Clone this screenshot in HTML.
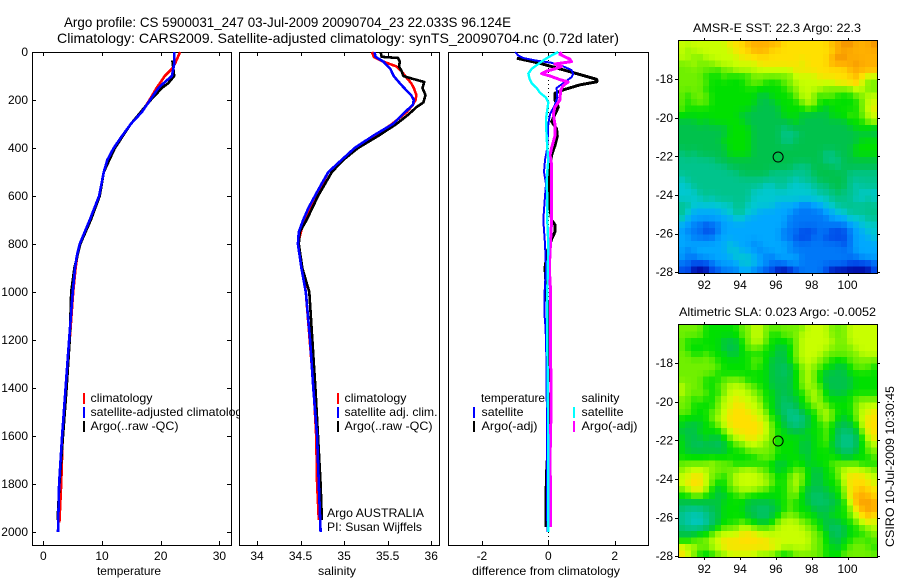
<!DOCTYPE html>
<html>
<head>
<meta charset="utf-8">
<title>Argo profile</title>
<style>
html,body{margin:0;padding:0;background:#fff;}
svg{display:block;}
text{font-family:"Liberation Sans",sans-serif;font-size:12px;fill:#000;}
.title{font-size:14px;}
.map-title{font-size:12px;}
</style>
</head>
<body>
<svg id="chart" xmlns="http://www.w3.org/2000/svg" width="900" height="580" viewBox="0 0 900 580">
  <text class="title" x="64" y="27" textLength="447" lengthAdjust="spacingAndGlyphs">Argo profile: CS 5900031_247 03-Jul-2009 20090704_23 22.033S 96.124E</text>
  <text class="title" x="57" y="43" textLength="562" lengthAdjust="spacingAndGlyphs">Climatology: CARS2009. Satellite-adjusted climatology: synTS_20090704.nc (0.72d later)</text>
  <text class="map-title" x="693" y="32" textLength="168" lengthAdjust="spacingAndGlyphs">AMSR-E SST: 22.3 Argo: 22.3</text>
  <text class="map-title" x="679" y="316" textLength="197" lengthAdjust="spacingAndGlyphs">Altimetric SLA: 0.023 Argo: -0.0052</text>
  <text x="0" y="0" transform="translate(894,547) rotate(-90)" textLength="161" lengthAdjust="spacingAndGlyphs">CSIRO 10-Jul-2009 10:30:45</text>
</svg>
<script>
// ---------- profile data ----------
const depthTicks = [0,200,400,600,800,1000,1200,1400,1600,1800,2000];
const tempTicks = [0,10,20,30];
const salTicks = [34,34.5,35,35.5,36];
const salTickLabels = ['34','34.5','35','35.5','36'];
const diffTicks = [-2,0,2];
const lonTicks = [92,94,96,98,100];
const latTicks = [-18,-20,-22,-24,-26,-28];

const tempClimDepth = [0,50,70,100,150,200,250,300,350,400,450,500,600,700,800,850,900,1000,1200,1400,1600,1800,1960];
const tempClim = [23.3,22.4,21.9,20.7,19.3,18.1,16.8,14.9,13.4,12,10.9,10.3,9.5,7.9,6.2,5.8,5.5,5.1,4.5,3.9,3.3,3.05,2.75];
const tempArgoDepth = [35,100,130,150,200,300,400,500,600,700,800,900,1000,1200,1400,1600,1800,1950];
const tempArgo = [22,22.3,21.3,20.2,18.3,14.9,12.2,10.3,9.6,8.1,6.3,5.3,4.76,4.5,3.97,3.35,2.75,2.44];
const tempSatDepth = [0,50,100,130,150,200,250,300,350,400,450,500,600,700,800,850,900,1000,1200,1400,1600,1800,2000];
const tempSat = [22.3,22.3,21.9,20.5,19.6,18.2,16.8,14.9,13.4,12,10.9,10.3,9.5,7.9,6.2,5.7,5.4,5,4.4,3.8,3.2,2.7,2.5];

const salClimDepth = [0,20,40,60,80,100,130,150,180,200,220,250,300,350,400,450,500,600,700,800,900,1000,1400,1600,1800,1950];
const salClim = [35.32,35.34,35.45,35.6,35.66,35.7,35.77,35.8,35.83,35.82,35.79,35.72,35.55,35.35,35.14,34.99,34.82,34.68,34.54,34.47,34.52,34.56,34.65,34.68,34.69,34.71];
const salArgoDepth = [0,20,25,40,60,80,100,110,125,150,180,210,230,260,300,350,400,450,500,600,700,750,800,900,1000,1400,1600,1800,1950];
const salArgo = [35.42,35.43,35.62,35.64,35.63,35.66,35.68,35.77,35.92,35.9,35.935,35.91,35.83,35.74,35.6,35.39,35.16,34.99,34.86,34.7,34.57,34.49,34.48,34.52,34.6,34.67,34.7,34.73,34.745];
const salSatDepth = [0,20,40,70,100,130,150,180,200,220,250,300,350,400,450,500,550,600,650,700,750,800,850,900,1000,1200,1400,1600,1800,2000];
const salSat = [35.35,35.36,35.45,35.53,35.57,35.64,35.69,35.77,35.8,35.79,35.7,35.56,35.33,35.12,34.97,34.82,34.74,34.665,34.59,34.53,34.48,34.47,34.49,34.51,34.56,34.61,34.646,34.69,34.71,34.73];

const diffTempSatDepth = [0,15,25,35,45,60,75,90,105,125,150,190,220,260,300,400,450,500,550,600,700,800,900,1000,1100,1150,1300,2000];
const diffTempSat = [-1,-0.9,-0.75,-0.4,0.1,0.45,0.7,0.75,0.7,0.5,0.25,0.27,0.2,0.05,0,-0.03,-0.1,-0.13,-0.07,-0.1,-0.15,-0.1,-0.07,-0.11,-0.11,-0.08,-0.05,-0.03];
const diffTempArgoDepth = [26,47,82,114,124,137,158,172,200,230,260,290,320,350,390,430,500,600,700,720,750,780,830,900,1000,1100,1200,1300,1400,1700,1750,1850,1980];
const diffTempArgo = [-0.95,-0.25,0.65,1.46,1.46,0.95,0.45,0.2,0.2,0.3,0.2,0.1,0.25,0.27,0.2,0.1,0.02,0,0.1,0.2,0.2,0.1,-0.03,-0.1,-0.05,0,0.03,0.05,0.08,-0.03,-0.05,-0.07,-0.07];
const diffSalSatDepth = [0,10,30,50,70,90,110,130,150,170,190,210,240,280,350,400,450,500,550,600,700,800,1000,1200,1500,2000];
const diffSalSat = [0.3,0.15,-0.1,-0.3,-0.5,-0.6,-0.57,-0.5,-0.35,-0.25,-0.07,0,-0.03,-0.07,-0.05,-0.03,0,-0.03,-0.05,-0.03,-0.03,0,-0.03,-0.03,-0.01,0];
const diffSalArgoDepth = [0,10,20,30,40,50,60,70,80,90,100,115,125,140,160,200,230,260,300,350,400,430,470,550,600,700,900,1000,1200,1500,1700,1850,1980];
const diffSalArgo = [0.4,0.35,0.5,0.65,0.7,0.2,0.4,0.2,-0.05,-0.2,0.05,0.35,0.6,0.45,0.37,0.35,0.2,0.15,0.2,0.2,0.1,0.05,0.1,0.1,0.1,0.1,0.03,0.07,0.07,0.08,0.05,0.07,0.07];

// ---------- map data (gridded levels, north to south) ----------
const argoLon = 96.124;
const argoLat = -22.033;
const sstGrid = [
[9,9,9,9,9,9,9,9,10,10,10,11,11,11,11,11,11,10,10,10,10,10,10,10,10,11,11,12,12,11,11,11,12],
[9,8,9,9,9,9,9,9,9,10,10,10,11,11,11,10,10,10,10,10,10,10,10,10,10,10,11,11,11,11,11,11,11],
[9,9,8,8,9,9,9,9,9,9,10,10,10,10,10,10,10,10,10,10,10,10,10,10,10,11,12,12,11,11,11,11,11],
[8,8,9,8,8,8,9,9,9,9,9,9,9,10,10,10,10,10,10,10,9,10,10,10,10,11,11,11,11,12,11,11,11],
[8,8,8,8,8,8,7,8,8,9,9,9,9,9,9,9,9,9,9,10,10,10,10,10,10,10,10,10,11,11,11,11,11],
[8,8,8,8,7,7,7,8,7,7,7,7,8,8,8,8,8,8,8,9,9,9,9,10,10,10,10,10,10,11,10,9,9],
[8,8,8,8,8,7,7,7,7,7,7,8,8,8,7,7,7,8,8,9,9,9,9,9,9,9,10,10,10,11,9,8,8],
[8,8,8,8,7,7,7,7,7,7,7,7,7,7,7,7,7,7,8,8,9,9,9,9,8,8,8,8,8,9,9,8,8],
[8,7,8,8,8,7,7,7,7,7,7,7,7,6,6,7,7,7,7,8,9,9,8,7,8,8,7,7,7,8,8,9,9],
[8,7,8,8,8,7,7,7,7,7,7,7,7,6,6,6,7,7,7,7,8,9,9,7,7,7,7,7,7,7,8,9,9],
[8,7,7,7,7,7,7,7,7,7,7,7,6,6,6,6,6,7,7,7,7,8,7,7,6,7,7,7,7,7,8,9,10],
[7,7,7,7,7,7,7,7,7,7,6,6,6,6,6,6,6,7,7,7,6,6,6,6,6,7,7,7,8,7,8,9,9],
[6,6,6,7,6,7,7,7,7,7,7,6,6,6,6,6,6,6,6,7,6,6,6,6,6,6,6,6,7,7,7,8,9],
[6,6,6,6,6,6,6,6,7,7,7,7,6,6,6,6,6,5,6,6,6,6,6,6,6,6,6,6,6,7,7,7,6],
[6,6,6,6,6,6,6,6,7,7,7,7,6,6,6,6,6,5,5,5,6,6,6,6,6,6,6,6,6,6,6,6,6],
[6,6,6,6,6,6,6,7,7,7,7,7,6,6,6,6,6,5,5,6,6,6,6,6,6,6,6,6,6,6,7,7,7],
[6,6,6,6,6,6,6,6,7,7,7,7,6,6,6,6,6,6,6,6,6,6,6,6,6,6,6,6,6,7,7,7,7],
[5,6,5,6,6,6,6,6,7,7,7,7,6,6,6,6,6,6,6,6,6,6,6,6,5,5,6,6,6,7,7,7,7],
[5,5,5,5,5,5,6,6,6,6,6,6,6,6,6,6,6,6,6,6,6,6,6,6,5,5,5,6,6,6,6,6,6],
[5,5,5,5,5,5,5,5,6,6,6,6,6,6,6,6,6,6,6,5,5,5,6,6,6,6,5,6,6,6,6,6,6],
[5,5,5,5,5,5,5,5,5,5,6,6,6,6,6,5,5,5,5,5,5,5,6,6,6,6,6,6,5,5,5,5,5],
[4,5,5,5,5,5,5,5,5,5,5,5,5,5,5,5,5,5,5,4,5,5,5,6,6,6,6,6,5,5,5,5,5],
[4,4,5,5,5,5,5,5,5,5,5,5,5,5,4,4,5,5,4,4,4,4,5,5,5,6,6,6,5,4,5,5,5],
[4,4,4,5,5,5,5,5,5,5,5,5,4,4,4,4,4,4,4,4,4,4,4,5,5,5,6,5,5,5,4,4,4],
[4,4,4,4,5,4,5,5,5,5,5,5,4,4,4,4,4,4,4,4,4,4,4,4,4,5,5,5,5,4,4,5,4],
[5,5,4,4,4,4,4,4,4,5,5,4,4,4,4,4,3,3,3,3,2,2,3,3,4,4,5,5,5,5,5,5,5],
[5,4,3,3,3,3,3,4,4,5,5,4,4,3,3,3,3,3,3,2,2,2,2,2,3,3,4,4,5,5,5,5,5],
[5,3,3,3,3,3,3,3,3,4,4,3,3,3,3,3,3,3,2,2,2,2,2,2,2,3,3,3,4,4,4,5,5],
[3,3,2,2,1,2,2,3,3,3,3,3,3,3,3,3,3,3,2,2,2,2,2,2,2,2,2,2,3,3,4,4,4],
[3,2,2,2,1,1,2,3,3,3,3,3,3,3,3,3,3,2,2,2,1,1,1,2,2,1,1,1,2,3,3,4,4],
[3,3,2,2,2,2,3,3,3,3,3,3,3,3,3,3,3,2,2,1,1,1,2,2,1,1,1,1,2,3,3,3,4],
[3,3,3,3,3,3,3,3,4,3,3,3,2,3,3,3,3,3,3,2,2,2,2,2,2,2,2,1,2,3,3,3,3],
[3,2,3,3,3,3,3,3,4,4,3,3,3,2,3,3,3,3,2,2,2,2,2,2,2,2,2,2,2,3,3,3,3],
[3,2,2,3,3,3,3,3,3,4,4,4,3,3,2,2,3,3,3,3,2,2,2,2,2,2,2,2,2,2,3,3,3],
[2,2,1,1,1,2,3,3,3,3,4,4,4,3,3,2,2,2,3,3,2,2,2,2,2,2,2,2,1,1,1,1,2],
[1,1,0,0,0,1,1,2,2,2,3,3,2,2,1,1,0,0,0,1,2,2,2,2,1,0,0,0,0,0,0,0,1]
];
const slaGrid = [
[8,8,8,8,7,7,7,7,7,7,8,8,9,9,8,8,8,8,8,8,8,9,9,9,9,8,8,8,9,9,9,9,9],
[8,8,8,8,7,7,7,7,7,7,8,8,9,9,8,7,7,8,8,8,9,9,9,9,9,8,8,8,9,9,9,9,9],
[8,7,7,7,7,7,7,6,6,6,7,8,9,9,8,7,7,7,7,8,9,9,9,9,9,9,8,8,9,9,9,9,9],
[8,7,7,7,7,7,7,6,6,6,7,8,8,8,7,7,6,6,7,8,9,9,9,9,9,8,8,8,8,9,9,9,9],
[8,8,7,7,8,7,7,7,6,6,7,7,7,7,7,7,6,6,7,8,9,9,9,9,8,8,8,8,8,8,9,9,9],
[8,8,8,8,8,8,7,7,7,7,7,7,8,8,7,6,6,6,7,8,9,9,9,8,8,7,7,7,8,8,8,8,8],
[8,8,8,8,8,8,8,7,7,7,7,7,8,7,7,6,6,5.5,6,7,8,9,8,8,7,7,6,6,7,8,8,8,7],
[8,8,8,8,8,8,7,7,7,7,7,7,7,7,7,6,6,5.5,6,7,8,9,8,7,6,6,6,6,7,7,7,7,7],
[8,8,8,8,7,7,7,8,8,8,8,7,7,7,7,6,6,6,6,7,8,9,8,7,6,6,6,6,6,7,7,7,7],
[9,8,8,8,7,7,8,8,9,9,9,8,8,7,7,6,6,6,6,7,8,9,8,8,6,6,6,6,6,7,7,7,7],
[9,8,8,8,8,7,7,8,9,9,9,9,8,8,7,7,6,6,6,7,7,8,9,8,7,6,6,6,7,7,7,7,7],
[8,8,7,8,7,7,8,9,9,10,9,9,9,8,7,7,6,5.5,6,6,7,8,9,8,7,7,7,7,7,8,8,8,8],
[8,8,7,7,7,7,8,9,9,10,10,9,9,9,7,7,6,5.5,5.5,6,7,7,8,9,8,7,7,7,7,8,9,9,9],
[8,8,7,7,7,8,8,9,10,10,10,10,9,9,8,7,6,5.5,5,5,6,7,7,8,9,8,7,7,7,8,9,9,10],
[7,7,7,7,7,8,9,9,10,10,10,10,10,9,9,7,7,6,5,5,5,6,7,8,9,8,7,6,7,8,9,10,10],
[7,6,6,6,7,7,8,9,10,10,10,10,10,10,9,8,7,6,5.5,5,5.5,6,7,7,8,7,6,6,6,7,9,10,10],
[6,6,6,7,7,7,7,8,9,10,10,10,10,10,9,8,7,7,6,6,6,7,7,7,8,7,5.5,5.5,5.5,6,8,10,10],
[7,6,6,6,7,6,6,7,8,9,9,10,10,9,9,8,7,7,7,7,7,6,7,7,8,7,5.5,5,5,5.5,7,9,10],
[7,6,6,5.5,6,6,5.5,6,7,8,8,9,9,9,8,8,7,7,7,7,6,6,7,7,8,6,5.5,5,5,5.5,7,8,9],
[7,6,6,6,6,6,6,6,7,7,7,8,8,8,8,8,7,7,7,7,6,6,7,7,7,7,6,5.5,5.5,6,7,8,8],
[7,7,7,7,7,7,7,7,7,7,7,7,7,8,8,8,7,7,7,7,7,6,7,7,7,7,7,6,6,7,7,7,8],
[8,8,8,8,8,9,8,8,8,7,7,7,7,7,7,7,6,6,7,7,7,6,7,7,7,8,8,8,8,8,7,7,7],
[8,9,9,9,9,8,8,8,8,8,9,9,9,8,8,7,6,7,7,8,8,7,6,6,7,7,8,9,9,9,9,9,8],
[9,9,10,10,9,8,8,7,8,9,9,9,9,9,8,8,7,7,8,9,8,7,6,6,7,7,8,9,10,10,10,9,9],
[9,10,10,10,9,8,7,7,8,9,9,9,9,9,9,8,7,7,8,9,8,7,6,6,7,7,7,9,10,10,10,10,9],
[8,9,10,10,9,7,6,7,8,8,9,9,9,8,8,7,7,7,8,9,7,6,6,6,6,7,7,8,10,10,11,10,10],
[7,7,8,8,7,7,6,6,7,7,8,7,7,7,7,7,7,7,8,8,7,6,5.5,5.5,6,6,7,8,10,11,11,11,10],
[6,6,6,6,6,6,6,7,7,7,7,6,6,6,6,6,7,7,8,7,7,6,5.5,5.5,5.5,6,6,7,9,11,11.5,11.5,11],
[5.5,5,5,5,5.5,6,6,7,7,7,7,6,6,5.5,5.5,6,6,7,8,7,7,7,6,6,6,6,7,7,8,10,11,11.5,11],
[5,4.5,4.5,4.5,5,5.5,6,7,7,7,7,6,6,5.5,5.5,6,7,8,8,8,7,7,7,6,6,7,7,7,8,9,10,11,10],
[5,4.5,4,4,4.5,5.5,6,7,7,7,8,7,7,6,6,7,8,9,9,9,8,8,7,7,6,6,6,7,7,8,9,10,9],
[5.5,5,5,5,5.5,6,7,8,8,8,9,9,8,8,8,8,9,9,9,9,9,8,8,7,6,5.5,5.5,6,7,7,8,8,9],
[6,6,6,7,7,8,9,9,9,9,10,10,10,9,9,9,9,9,9,9,9,9,8,8,7,6,5.5,6,7,7,7,8,8],
[7,7,8,8,8,9,9,10,10,10,10,10,10,10,10,9,9,9,9,9,9,9,8,8,7,6,6,7,7,8,8,7,8],
[10,9,9,8,8,9,9,10,10,10,10,10,10,10,10.5,10,10,9,9,9,9,9,8,8,7,7,6,7,8,8,8,8,7],
[10,9,8,7,6.5,7,8,8,9,9,9,9,9,8,8,8,7,6.5,7,8,8,8,8,8,7,7,7,8,8,8,8,8,8]
];
const levelColors = ['#00009a','#0048e8','#0078f8','#00a8ff','#00c8d0','#00c48c','#00c24c','#00e000','#70f000','#c8ff00','#ffe000','#ffb000','#f08800'];

// ---------- drawing helpers ----------
const NS = 'http://www.w3.org/2000/svg';
const svg = document.getElementById('chart');
function make(tag, attrs, parent){
  const el = document.createElementNS(NS, tag);
  for (const k in attrs) el.setAttribute(k, attrs[k]);
  (parent || svg).appendChild(el);
  return el;
}
const PANEL_TOP = 52, PANEL_BOTTOM = 545;
const yDepth = d => 52 + d * 0.24;
const xTemp = v => 43.3 + v * 5.87;
const xSal = v => 257 + (v - 34) * 87.1;
const xDiff = v => 548.3 + v * 33.2;

function drawPanelFrame(left, right, name){
  const frame = make('rect', {x:left+0.5, y:PANEL_TOP+0.5, width:right-left, height:PANEL_BOTTOM-PANEL_TOP, fill:'#fff', stroke:'#000', 'stroke-width':1, 'shape-rendering':'crispEdges'});
  
  
}
function drawXAxis(ticks, labels, xf, title, titleX, titleWidth, name){
  ticks.forEach((t, i) => {
    const x = Math.round(xf(t)) + 0.5;
    const top = make('line', {x1:x, x2:x, y1:PANEL_TOP, y2:PANEL_TOP+4, stroke:'#000', 'shape-rendering':'crispEdges'});
    
    
    const bot = make('line', {x1:x, x2:x, y1:PANEL_BOTTOM-4, y2:PANEL_BOTTOM, stroke:'#000', 'shape-rendering':'crispEdges'});
    
    
    const label = make('text', {x:xf(t), y:560, 'text-anchor':'middle'});
    label.textContent = labels[i];
    
    
  });
  const at = make('text', {x:titleX - titleWidth / 2, y:575, textLength:titleWidth, lengthAdjust:'spacingAndGlyphs'});
  at.textContent = title;
  
  
}
function drawSeries(depths, values, xf, color, width, name){
  const pts = depths.map((d, i) => xf(values[i]).toFixed(1) + ',' + yDepth(d).toFixed(1)).join(' ');
  const line = make('polyline', {points:pts, fill:'none', stroke:color, 'stroke-width':width, 'stroke-linejoin':'round', 'shape-rendering':'crispEdges'});
  
  
}
function legendEntry(barX, textX, y, color, label, name, textWidth){
  if (color) {
    const bar = make('rect', {x:barX, y:y-9, width:2, height:11, fill:color, 'shape-rendering':'crispEdges'});
    
    
  }
  const t = make('text', {x:textX, y:y});
  if (textWidth) {
    t.setAttribute('textLength', textWidth);
    t.setAttribute('lengthAdjust', 'spacingAndGlyphs');
  }
  t.textContent = label;
  
  
}
function levelColor(v){
  const lo = Math.max(0, Math.min(levelColors.length - 1, Math.floor(v)));
  const hi = Math.min(levelColors.length - 1, lo + 1);
  const f = v - lo;
  const parse = c => [1,3,5].map(i => parseInt(c.substr(i,2),16));
  const a = parse(levelColors[lo]), b = parse(levelColors[hi]);
  return 'rgb(' + a.map((x,i) => Math.round(x + (b[i]-x)*f)).join(',') + ')';
}
function smoothed(grid, r, c){
  const weights = [1,3,1];
  let sum = 0, tot = 0;
  for (let i = -1; i <= 1; i++) {
    for (let j = -1; j <= 1; j++) {
      const row = grid[r+i];
      if (!row || row[c+j] === undefined) continue;
      const w = weights[i+1] * weights[j+1];
      sum += row[c+j] * w;
      tot += w;
    }
  }
  return sum / tot;
}
function drawMap(grid, top, bottom, name){
  const left = 679, right = 877;
  const xLon = v => 704.3 + (v - 92) * 17.9;
  const yLat = v => top + 38.2 + (-18 - v) * 19.3;
  const h = (bottom - top) / grid.length;
  grid.forEach((row, r) => {
    const w = (right - left) / row.length;
    row.forEach((v, c) => {
      const cell = make('rect', {x:left + c*w, y:top + r*h, width:w + 0.3, height:h + 0.3, fill:levelColor(smoothed(grid, r, c)), 'shape-rendering':'crispEdges'});
      
      
    });
  });
  const frame = make('rect', {x:left-0.5, y:top-0.5, width:right-left+1, height:bottom-top+1, fill:'none', stroke:'#000', 'shape-rendering':'crispEdges'});
  
  
  lonTicks.forEach(t => {
    const x = Math.round(xLon(t)) + 0.5;
    const tk = make('line', {x1:x, x2:x, y1:top-3, y2:top, stroke:'#000', 'shape-rendering':'crispEdges'});
    
    
    const tb = make('line', {x1:x, x2:x, y1:bottom, y2:bottom+3, stroke:'#000', 'shape-rendering':'crispEdges'});
    
    
    const lb = make('text', {x:xLon(t), y:bottom+16, 'text-anchor':'middle'});
    lb.textContent = String(t);
    
    
  });
  latTicks.forEach(t => {
    const y = Math.round(yLat(t)) + 0.5;
    const tr = make('line', {x1:right, x2:right+3, y1:y, y2:y, stroke:'#000', 'shape-rendering':'crispEdges'});
    
    
    const tl = make('line', {x1:left-4, x2:left, y1:y, y2:y, stroke:'#000', 'shape-rendering':'crispEdges'});
    
    
    const lb = make('text', {x:left-6, y:yLat(t)+4, 'text-anchor':'end'});
    lb.textContent = String(t);
    
    
  });
  const marker = make('circle', {cx:xLon(argoLon), cy:yLat(argoLat), r:5, fill:'none', stroke:'#000', 'stroke-width':1});
  
  
}

// ---------- panel 1: temperature ----------
drawPanelFrame(32, 231, 'temperature-panel');
depthTicks.forEach(d => {
  const y = Math.round(yDepth(d)) + 0.5;
  const l = make('line', {x1:32, x2:36, y1:y, y2:y, stroke:'#000', 'shape-rendering':'crispEdges'});
  
  
  const r = make('line', {x1:227, x2:231, y1:y, y2:y, stroke:'#000', 'shape-rendering':'crispEdges'});
  
  
  const t = make('text', {x:28, y:yDepth(d)+4, 'text-anchor':'end'});
  t.textContent = String(d);
  
  
});
drawXAxis(tempTicks, tempTicks.map(String), xTemp, 'temperature', 129, 64, 'temperature');
drawSeries(tempClimDepth, tempClim, xTemp, '#ff0000', 2.6, 'temperature-climatology-line');
drawSeries(tempArgoDepth, tempArgo, xTemp, '#000000', 2.6, 'temperature-argo-line');
drawSeries(tempSatDepth, tempSat, xTemp, '#0000ff', 2.6, 'temperature-satellite-line');
legendEntry(83, 90.5, 402, '#ff0000', 'climatology', 'temperature-legend-climatology', 62);
legendEntry(83, 90.5, 416, '#0000ff', 'satellite-adjusted climatology', 'temperature-legend-satellite', 158);
legendEntry(83, 90.5, 430, '#000000', 'Argo(..raw -QC)', 'temperature-legend-argo', 88);

// ---------- panel 2: salinity ----------
drawPanelFrame(239, 439, 'salinity-panel');
drawXAxis(salTicks, salTickLabels, xSal, 'salinity', 337, 38, 'salinity');
drawSeries(salClimDepth, salClim, xSal, '#ff0000', 2.6, 'salinity-climatology-line');
drawSeries(salArgoDepth, salArgo, xSal, '#000000', 2.6, 'salinity-argo-line');
drawSeries(salSatDepth, salSat, xSal, '#0000ff', 2.6, 'salinity-satellite-line');
legendEntry(337, 344.5, 402, '#ff0000', 'climatology', 'salinity-legend-climatology', 62);
legendEntry(337, 344.5, 416, '#0000ff', 'satellite adj. clim.', 'salinity-legend-satellite', 93);
legendEntry(337, 344.5, 430, '#000000', 'Argo(..raw -QC)', 'salinity-legend-argo', 88);
legendEntry(0, 327, 517, null, 'Argo AUSTRALIA', 'argo-country-note', 97);
legendEntry(0, 327, 531, null, 'PI: Susan Wijffels', 'principal-investigator-note', 95);

// ---------- panel 3: differences ----------
drawPanelFrame(448, 648, 'difference-panel');
const zeroLine = make('line', {x1:xDiff(0), x2:xDiff(0), y1:PANEL_TOP, y2:PANEL_BOTTOM, stroke:'#000', 'stroke-dasharray':'1 3', 'shape-rendering':'crispEdges'});


drawXAxis(diffTicks, diffTicks.map(String), xDiff, 'difference from climatology', 546, 148, 'difference');
drawSeries(diffTempArgoDepth, diffTempArgo, xDiff, '#000000', 3, 'difference-temperature-argo-line');
drawSeries(diffTempSatDepth, diffTempSat, xDiff, '#0000ff', 2, 'difference-temperature-satellite-line');
drawSeries(diffSalArgoDepth, diffSalArgo, xDiff, '#ff00ff', 3, 'difference-salinity-argo-line');
drawSeries(diffSalSatDepth, diffSalSat, xDiff, '#00ffff', 2.4, 'difference-salinity-satellite-line');
legendEntry(0, 481, 402, null, 'temperature', 'difference-legend-temperature-heading', 64);
legendEntry(473, 481.5, 416, '#0000ff', 'satellite', 'difference-legend-temperature-satellite', 42);
legendEntry(473, 481.5, 430, '#000000', 'Argo(-adj)', 'difference-legend-temperature-argo', 56);
legendEntry(0, 581.5, 402, null, 'salinity', 'difference-legend-salinity-heading', 38);
legendEntry(573, 581.5, 416, '#00ffff', 'satellite', 'difference-legend-salinity-satellite', 42);
legendEntry(573, 581.5, 430, '#ff00ff', 'Argo(-adj)', 'difference-legend-salinity-argo', 56);

// ---------- maps ----------
drawMap(sstGrid, 41, 273, 'sst-map');
drawMap(slaGrid, 325, 557, 'sla-map');
</script>
</body>
</html>
